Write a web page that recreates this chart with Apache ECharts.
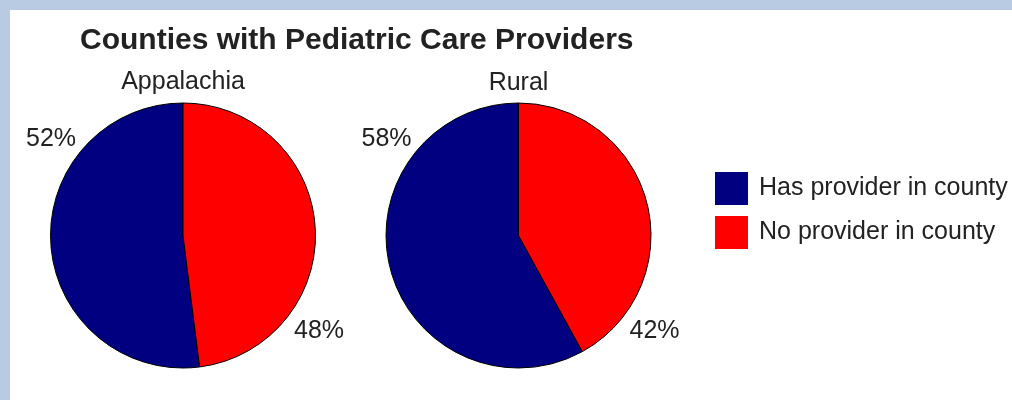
<!DOCTYPE html>
<html>
<head>
<meta charset="utf-8">
<script src="https://cdn.jsdelivr.net/npm/echarts@6/dist/echarts.min.js"></script>
<style>
  html, body { margin: 0; padding: 0; width: 1012px; height: 400px; background: #b9cae3; overflow: hidden; }
  #chart { position: absolute; left: 10px; top: 10px; width: 1002px; height: 390px; background: #ffffff; }
</style>
</head>
<body>
<div id="chart"></div>
<script>
const categories = ['Has provider in county', 'No provider in county'];
const groups = ['Appalachia', 'Rural'];
const appalachiaValues = [52, 48];
const ruralValues = [58, 42];
const colors = ['#000080', '#ff0000'];

const FONT = '"Liberation Sans", Arial, sans-serif';
const TEXT = '#222222';
const centers = [[173, 225.5], [508.5, 225.5]];
const radius = 132.5;
const labelOffsets = [[-132, -96], [136, 96]];

const chart = echarts.init(document.getElementById('chart'), null, { renderer: 'canvas' });

function makeSeries(name, values, idx) {
  return {
    name: name,
    type: 'pie',
    center: centers[idx],
    radius: radius,
    startAngle: 90,
    clockwise: false,
    silent: true,
    animation: false,
    avoidLabelOverlap: false,
    itemStyle: { borderColor: '#000000', borderWidth: 1 },
    label: {
      show: true,
      position: 'inner',
      formatter: p => p.value + '%',
      fontFamily: FONT,
      fontSize: 25,
      color: TEXT
    },
    labelLine: { show: false },
    labelLayout: function (params) {
      const off = labelOffsets[params.dataIndex];
      return {
        x: centers[idx][0] + off[0],
        y: centers[idx][1] + off[1],
        align: 'center',
        verticalAlign: 'middle'
      };
    },
    data: categories.map((c, i) => ({ name: c, value: values[i], itemStyle: { color: colors[i] } }))
  };
}

chart.setOption({
  backgroundColor: '#ffffff',
  animation: false,
  title: [
    {
      text: 'Counties with Pediatric Care Providers',
      left: 70, top: 16, padding: 0,
      textStyle: { fontFamily: FONT, fontSize: 30, fontWeight: 'bold', color: TEXT, lineHeight: 30 }
    },
    {
      text: groups[0],
      left: centers[0][0], top: 59, padding: 0, textAlign: 'center',
      textStyle: { fontFamily: FONT, fontSize: 25, fontWeight: 'normal', color: TEXT, lineHeight: 26 }
    },
    {
      text: groups[1],
      left: centers[1][0], top: 60, padding: 0, textAlign: 'center',
      textStyle: { fontFamily: FONT, fontSize: 25, fontWeight: 'normal', color: TEXT, lineHeight: 26 }
    }
  ],
  legend: {
    orient: 'vertical',
    left: 705, top: 162, padding: 0,
    itemWidth: 33, itemHeight: 33, itemGap: 11,
    icon: 'rect',
    selectedMode: false,
    data: categories,
    itemStyle: { borderWidth: 0 },
    textStyle: { fontFamily: FONT, fontSize: 25, color: TEXT, padding: [0, 0, 0, 6] }
  },
  series: [
    makeSeries(groups[0], appalachiaValues, 0),
    makeSeries(groups[1], ruralValues, 1)
  ]
});
</script>
</body>
</html>
